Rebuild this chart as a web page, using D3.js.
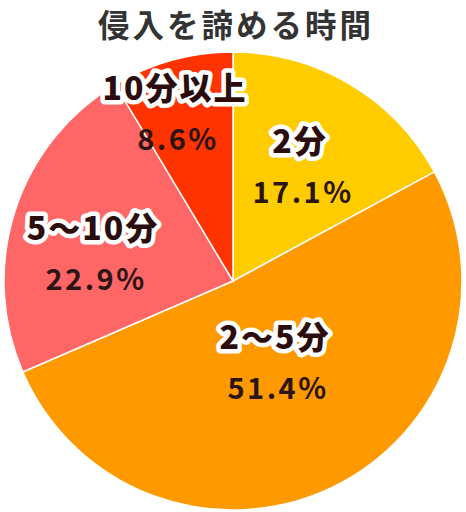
<!DOCTYPE html>
<html>
<head>
<meta charset="utf-8">
<script src="https://cdn.jsdelivr.net/npm/d3@7"></script>
<style>
  body { margin: 0; background: #fff; }
  svg text { font-family: "Noto Sans CJK JP", "Noto Sans", sans-serif; }
</style>
</head>
<body>
<div id="content"></div>
<script>
// chart data
var title = "侵入を諦める時間";
var categories = ["2分", "2〜5分", "5〜10分", "10分以上"];
var values = [17.1, 51.4, 22.9, 8.6];
var colors = ["#FFCC00", "#FF9900", "#FF6666", "#FF3300"];
// label centres
var labelPos = [[300, 141], [275, 337], [93, 228], [175, 88]];

var width = 466, height = 512;
var cx = 233, cy = 281, radius = 229;

var svg = d3.select("#content").append("svg")
  .attr("width", width)
  .attr("height", height);

svg.append("text")
  .attr("x", 236)
  .attr("y", 37)
  .attr("text-anchor", "middle")
  .attr("font-size", 31.5)
  .attr("font-weight", 700)
  .attr("letter-spacing", 3)
  .attr("fill", "#333")
  .text(title);

var data = categories.map(function(c, i) {
  return {name: c, val: values[i], color: colors[i], pos: labelPos[i]};
});

var pie = d3.pie()
  .sort(null)
  .value(function(d) { return d.val; });

var arc = d3.arc()
  .innerRadius(0)
  .outerRadius(radius);

var g = svg.append("g")
  .attr("transform", "translate(" + cx + "," + cy + ")");

g.selectAll("path")
  .data(pie(data))
  .enter().append("path")
  .attr("d", arc)
  .attr("fill", function(d) { return d.data.color; })
  .attr("stroke", "#fff")
  .attr("stroke-width", 1.5);

// labels
var labels = svg.selectAll(".lbl")
  .data(data)
  .enter().append("g")
  .attr("class", "lbl");

labels.append("text")
  .attr("x", function(d) { return d.pos[0]; })
  .attr("y", function(d) { return d.pos[1] + 12; })
  .attr("text-anchor", "middle")
  .attr("font-size", 32)
  .attr("font-weight", 900)
  .attr("letter-spacing", 2)
  .attr("fill", "#fff")
  .attr("stroke", "#fff")
  .attr("stroke-width", 9)
  .attr("stroke-linejoin", "round")
  .text(function(d) { return d.name; });

labels.append("text")
  .attr("x", function(d) { return d.pos[0]; })
  .attr("y", function(d) { return d.pos[1] + 12; })
  .attr("text-anchor", "middle")
  .attr("font-size", 32)
  .attr("font-weight", 900)
  .attr("letter-spacing", 2)
  .attr("fill", "#2b0d0d")
  .text(function(d) { return d.name; });

labels.append("text")
  .attr("x", function(d) { return d.pos[0] + 3; })
  .attr("y", function(d) { return d.pos[1] + 62; })
  .attr("text-anchor", "middle")
  .attr("font-size", 29)
  .attr("font-weight", 700)
  .attr("letter-spacing", 2.5)
  .attr("fill", "#2b1414")
  .text(function(d) { return d.val.toFixed(1) + "%"; });
</script>
</body>
</html>
